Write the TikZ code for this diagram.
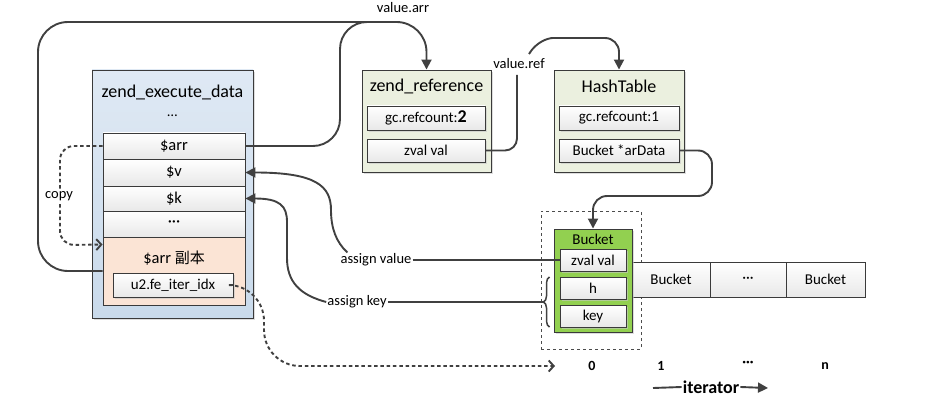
\documentclass[tikz,border=0pt]{standalone}
\usepackage{fontspec}
\setmainfont{Carlito}
\newfontfamily\cjk{Noto Sans CJK SC}
\usetikzlibrary{arrows.meta,shadows,decorations.pathreplacing}
\definecolor{ln}{HTML}{404040}
\definecolor{bd}{HTML}{3A3A3A}
\definecolor{bluetop}{HTML}{DFE9F4}
\definecolor{bluebot}{HTML}{C9DAEB}
\definecolor{orng}{HTML}{FBE4D5}
\definecolor{olive}{HTML}{EBF0DF}
\definecolor{grn}{HTML}{92D050}
\tikzset{
  shd/.style={drop shadow={shadow xshift=2pt,shadow yshift=-2pt,fill=black!22,opacity=0.6}},
  outerbox/.style={draw=bd,line width=0.9pt,inner sep=0pt,shd},
  field/.style={draw=bd,line width=0.9pt,inner sep=0pt,top color=white,bottom color=black!9,font=\fontsize{15}{15}\selectfont},
  rowf/.style={field,font=\fontsize{16.5}{16.5}\selectfont},
  title/.style={font=\fontsize{18}{18}\selectfont,inner sep=0pt},
  lbl/.style={font=\fontsize{14.5}{14.5}\selectfont,inner sep=1pt},
  idx/.style={font=\bfseries\fontsize{14}{14}\selectfont,inner sep=0pt},
  conn/.style={draw=ln,line width=1.9pt},
  tri/.style={-{Triangle[length=10pt,width=10pt]}},
  dconn/.style={draw=ln,line width=1.9pt,dash pattern=on 3.5pt off 2.8pt,-{Straight Barb[length=5pt,width=11pt]}}
}
\begin{document}
\begin{tikzpicture}[x=1pt,y=-1pt]
\useasboundingbox (0,0) rectangle (939,417);

% zend_execute_data
\node[outerbox,top color=bluetop,bottom color=bluebot,minimum width=161pt,minimum height=248pt] (ed) at (172.5,194) {};
\node[title] (edt) at (172.5,92) {zend\_execute\_data};
\node[lbl] (edd) at (172.5,116) {…};
\node[rowf,minimum width=142pt,minimum height=26pt] (arr) at (174,146) {\$arr};
\node[rowf,minimum width=142pt,minimum height=27pt] (v) at (174,172.5) {\$v};
\node[rowf,minimum width=142pt,minimum height=25pt] (k) at (174,198.5) {\$k};
\node[rowf,minimum width=142pt,minimum height=26pt] (dd) at (174,224) {···};
\node[draw=bd,line width=0.9pt,fill=orng,inner sep=0pt,minimum width=142pt,minimum height=68pt] (cp) at (174,271) {};
\node[font=\fontsize{16.5}{16.5}\selectfont,inner sep=0pt] (cpt) at (174,258) {\$arr {\cjk\fontsize{15}{15}\selectfont 副本}};
\node[field,shd,minimum width=120pt,minimum height=24pt] (it) at (173,285) {u2.fe\_iter\_idx};

% zend_reference
\node[outerbox,fill=olive,minimum width=129pt,minimum height=102pt] (zr) at (426.5,121) {};
\node[title] (zrt) at (426.5,86) {zend\_reference};
\node[field,shd,minimum width=118pt,minimum height=24pt] (gc2) at (426,118) {gc.refcount:\textbf{\fontsize{18}{18}\selectfont 2}};
\node[field,shd,minimum width=118pt,minimum height=23pt] (zv) at (426,150.5) {zval val};

% HashTable
\node[outerbox,fill=olive,minimum width=130pt,minimum height=102pt] (ht) at (619,121) {};
\node[title] (htt) at (619,86) {HashTable};
\node[field,shd,minimum width=120pt,minimum height=24pt] (gc1) at (619,118) {gc.refcount:1};
\node[field,shd,minimum width=120pt,minimum height=23pt] (ad) at (619,150.5) {Bucket *arData};

% bucket array
\node[draw=black!70,line width=0.8pt,dashed,minimum width=100pt,minimum height=138pt,inner sep=0pt] (fr) at (591,280) {};
\node[field,minimum width=78pt,minimum height=35pt] (b1) at (671,279.5) {Bucket};
\node[field,minimum width=76pt,minimum height=35pt] (b2) at (748,279.5) {···};
\node[field,minimum width=79pt,minimum height=35pt] (b3) at (825.5,279.5) {Bucket};
\node[outerbox,fill=grn,minimum width=78pt,minimum height=103pt] (bk) at (593,280.5) {};
\node[font=\fontsize{15}{15}\selectfont,inner sep=0pt] (bkt) at (593,239) {Bucket};
\node[field,shd,minimum width=66pt,minimum height=22pt] (zvb) at (593,260) {zval val};
\node[field,shd,minimum width=66pt,minimum height=22pt] (h) at (593,288) {h};
\node[field,shd,minimum width=66pt,minimum height=22pt] (key) at (593,316) {key};

% indices
\node[idx] (i0) at (592,366) {0};
\node[idx] (i1) at (661,366) {1};
\node[idx] (i2) at (748,364) {···};
\node[idx] (i3) at (825,366) {n};
\node[font=\bfseries\fontsize{18}{18}\selectfont,inner sep=1pt] (itr) at (711,387) {iterator};
\coordinate (itl) at (653,388);
\coordinate (itr2) at (768,388);
\draw[conn] (itl) -- (itr.west);
\draw[conn,tri] (itr.east) -- (itr2);

% labels
\node[lbl] (varr) at (403,8) {value.arr};
\node[lbl] (vref) at (519,64) {value.ref};
\node[lbl] (av) at (376,260) {assign value};
\node[lbl] (ak) at (357,302) {assign key};

% value.arr connectors
\draw[conn,tri,rounded corners=30pt] (cp.west) -- (38,271) -- (38,22) -- (426.5,22) -- (zr.north);
\draw[conn,rounded corners=27pt] (arr.east) -- (340,146) -- (340,22) -- (400,22);

% value.ref
\draw[conn,rounded corners=12pt] (zv.east) -- (517,150.5) -- (517,75);
\draw[conn,tri,rounded corners=14pt] (529,54) .. controls (536,42) and (548,38) .. (567,38) -- (619,38) -- (ht.north);

% arData -> bucket
\draw[conn,tri,rounded corners=14pt] (ad.east) -- (712,150.5) -- (712,196) -- (593,196) -- (bk.north);

% assign value
\draw[conn] (av.east) -- (zvb.west);
\draw[conn,tri] ([xshift=8pt]av.north west) .. controls (336,242) and (331,228) .. (331,210) .. controls (331,186) and (316,172.5) .. (v.east);

% assign key + brace
\coordinate (btip) at (543,302);
\draw[conn] (ak.east) -- (btip);
\draw[draw=ln,line width=1.5pt,decorate,decoration={brace,amplitude=6pt}] (549.5,327) -- (549.5,277);
\draw[conn,tri] (ak.west) .. controls (300,295) and (287,282) .. (287,258) -- (287,222) .. controls (287,206) and (280,198.5) .. (k.east);

% copy
\draw[dconn,rounded corners=14pt] (arr.west) -- (60,146) -- (60,245) -- ([yshift=-8pt]cp.north west);
\node[lbl,fill=white] (cpl) at (59,196) {copy};

% iter idx -> index 0
\draw[dconn,rounded corners=36pt] (it.east) -- (264,285) -- (264,366) -- (555,366);
\end{tikzpicture}
\end{document}
